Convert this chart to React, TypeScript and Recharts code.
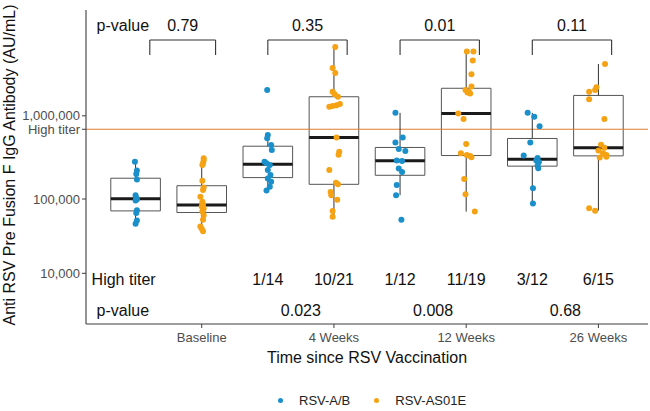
import React from "react";
import {
  ComposedChart,
  Scatter,
  XAxis,
  YAxis,
  ReferenceLine,
  ReferenceArea,
  ReferenceDot,
  Label,
} from "recharts";

const timepoints = ["Baseline", "4 Weeks", "12 Weeks", "26 Weeks"];
const groups = ["RSV-A/B", "RSV-AS01E"];
const groupColors = ["#1a8fca", "#f5a214"];

// anti-preF IgG (AU/mL) per participant
const abBaseline = [290000, 226000, 205000, 175000, 112000, 103000, 99000, 96000, 72000, 66000, 53000, 48000];
const asBaseline = [318000, 299000, 277000, 264000, 170000, 140000, 130000, 107000, 92000, 86000, 82000, 80000, 76000, 72000, 69000, 62000, 54000, 44000, 41000, 38000];
const abWeek4 = [1950000, 600000, 550000, 459000, 400000, 290000, 277000, 264000, 230000, 199000, 181000, 165000, 143000, 128000];
const asWeek4 = [5700000, 3400000, 3000000, 1870000, 1750000, 1640000, 1360000, 1320000, 1290000, 1270000, 560000, 380000, 350000, 230000, 160000, 153000, 123000, 112000, 98000, 70000, 59000];
const abWeek12 = [1080000, 560000, 490000, 410000, 390000, 300000, 295000, 240000, 217000, 150000, 112000, 54000];
const asWeek12 = [5100000, 5100000, 4100000, 2900000, 2130000, 1950000, 1870000, 1830000, 1780000, 1060000, 920000, 470000, 366000, 348000, 339000, 328000, 178000, 115000, 69000];
const abWeek26 = [1080000, 975000, 760000, 490000, 345000, 320000, 300000, 287000, 261000, 241000, 137000, 88000];
const asWeek26 = [3750000, 2090000, 1950000, 1870000, 1540000, 920000, 460000, 425000, 395000, 366000, 348000, 333000, 325000, 76000, 71000];

// horizontal jitter of each point, in category units
const jAbBaseline = [-0.01, 0.02, 0.01, 0.02, 0, 0.01, 0.02, 0, 0.02, 0.01, 0.02, 0];
const jAsBaseline = [0.03, 0.03, 0.02, 0.01, 0.01, 0.03, 0.02, -0.02, 0.01, 0.02, 0.01, 0, 0.03, 0.02, 0.01, 0.03, 0.02, -0.02, 0, 0.02];
const jAbWeek4 = [-0.01, 0, -0.01, 0.05, 0.06, -0.05, -0.02, 0.03, 0, 0.04, 0, 0.05, 0.03, -0.02];
const jAsWeek4 = [0.02, -0.02, 0.02, -0.02, 0.01, 0.06, 0.09, 0.04, -0.02, -0.07, 0.04, 0.08, 0.07, -0.07, 0.03, 0.06, -0.05, -0.04, 0.05, -0.02, -0.02];
const jAbWeek12 = [-0.07, 0.04, -0.07, -0.02, 0.08, -0.05, 0.03, -0.02, 0.03, -0.05, -0.06, 0.02];
const jAsWeek12 = [0.01, 0.11, 0.1, 0.08, 0.08, -0.01, 0.04, 0.02, 0.06, -0.12, -0.04, 0, -0.08, 0.01, 0.06, 0.08, -0.03, -0.01, 0.13];
const jAbWeek26 = [-0.07, 0.03, 0.11, -0.03, -0.13, 0.08, 0.06, 0.1, 0.08, 0.09, 0.01, 0.01];
const jAsWeek26 = [0.1, -0.03, -0.05, -0.14, -0.14, 0.09, 0.04, 0.09, 0, 0.07, 0.12, 0.12, 0.02, -0.14, -0.05];

const HIGH_TITER = 700000;
const betweenGroupP = ["0.79", "0.35", "0.01", "0.11"];
const overTimeP = ["0.023", "0.008", "0.68"];
const yTickValues = [10000, 100000, HIGH_TITER, 1000000];

const valuesByGroup = [
  [abBaseline, abWeek4, abWeek12, abWeek26],
  [asBaseline, asWeek4, asWeek12, asWeek26],
];
const jitterByGroup = [
  [jAbBaseline, jAbWeek4, jAbWeek12, jAbWeek26],
  [jAsBaseline, jAsWeek4, jAsWeek12, jAsWeek26],
];

// value axis: log10 decades above 10,000, stretched slightly toward the top
const STRETCH = 0.06;
const fromLog = (l: number) => {
  const d = l - 4;
  return d + STRETCH * d * (d - 1);
};
const toAxis = (v: number) => fromLog(Math.log10(v));

const Y_DOMAIN = [-0.682, 3.544];
const X_DOMAIN = [0.25, 8.75];
const BOX_HALF = 0.375;

// annotation rows, in axis units
const ROW_TOP = 3.33;
const BRACKET_TOP = 3.14;
const BRACKET_FOOT = 2.94;
const ROW_TITER = -0.085;
const ROW_P = -0.494;

const FONT = "'Liberation Sans', Arial, Helvetica, sans-serif";

const slot = (t: number, g: number) => 2 * t + 1 + g;

function quantile(sorted: number[], p: number) {
  const h = (sorted.length - 1) * p;
  const lo = Math.floor(h);
  const next = lo + 1 < sorted.length ? sorted[lo + 1] : sorted[lo];
  return sorted[lo] + (h - lo) * (next - sorted[lo]);
}

// ggplot-style box stats on the log scale (1.5 IQR whiskers)
function boxStats(values: number[]) {
  const logs = values.map((v) => Math.log10(v)).sort((a, b) => a - b);
  const q1 = quantile(logs, 0.25);
  const med = quantile(logs, 0.5);
  const q3 = quantile(logs, 0.75);
  const iqr = q3 - q1;
  const lo = Math.min(...logs.filter((l) => l >= q1 - 1.5 * iqr));
  const hi = Math.max(...logs.filter((l) => l <= q3 + 1.5 * iqr));
  return { q1: fromLog(q1), med: fromLog(med), q3: fromLog(q3), lo: fromLog(lo), hi: fromLog(hi) };
}

const points = valuesByGroup.map((byTime, g) =>
  byTime.flatMap((vals, t) =>
    vals.map((v, i) => ({ x: slot(t, g) + jitterByGroup[g][t][i], y: toAxis(v), value: v }))
  )
);

const boxes = valuesByGroup.flatMap((byTime, g) =>
  byTime.map((vals, t) => ({ pos: slot(t, g), ...boxStats(vals) }))
);

const titerLabels = timepoints.map((_, t) =>
  t === 0 ? [] : valuesByGroup.map((byTime) => {
    const vals = byTime[t];
    return `${vals.filter((v) => v > HIGH_TITER).length}/${vals.length}`;
  })
);

// brackets span from the A/B group to just past the AS01E group
const brackets = timepoints.map((_, t) =>
  t === 0 ? [slot(0, 0) + 0.215, slot(0, 1) + 0.21] : [slot(t, 0), slot(t, 1) + 0.2]
);

const yTickLabel = (t: number) => {
  let best = 0;
  yTickValues.forEach((v, i) => {
    if (Math.abs(toAxis(v) - t) < Math.abs(toAxis(yTickValues[best]) - t)) best = i;
  });
  const v = yTickValues[best];
  return v === HIGH_TITER ? "High titer" : v.toLocaleString("en-US");
};

const textShape = (text: string, anchor: "start" | "middle" = "middle", size = 16) =>
  (p: any) => (
    <text
      x={p.cx}
      y={p.cy}
      textAnchor={anchor}
      dominantBaseline="central"
      fontSize={size}
      fontFamily={FONT}
      fill="#111"
    >
      {text}
    </text>
  );

const dot = (color: string) => (p: any) => <circle cx={p.cx} cy={p.cy} r={3} fill={color} />;

export default function App() {
  const axisColor = "#3d3d3d";
  return (
    <div style={{ position: "absolute", left: 0, top: 0, width: 650, height: 411, background: "#fff", fontFamily: FONT }}>
      <ComposedChart width={650} height={411} margin={{ top: 10, right: 2, bottom: 0, left: 0 }}>
        <XAxis
          type="number"
          dataKey="x"
          domain={X_DOMAIN}
          allowDataOverflow
          ticks={[2, 4, 6, 8]}
          tickFormatter={(v: number) => timepoints[v / 2 - 1]}
          height={87}
          tickSize={4}
          tickMargin={5}
          axisLine={{ stroke: axisColor, strokeWidth: 1.1 }}
          tickLine={{ stroke: axisColor }}
          tick={{ fill: "#4d4d4d", fontSize: 13, fontFamily: FONT }}
        >
          <Label
            content={(p: any) => (
              <text
                x={p.viewBox.x + p.viewBox.width / 2}
                y={p.viewBox.y + 39}
                textAnchor="middle"
                fontSize={16}
                fontFamily={FONT}
                fill="#111"
              >
                Time since RSV Vaccination
              </text>
            )}
          />
        </XAxis>
        <YAxis
          type="number"
          dataKey="y"
          domain={Y_DOMAIN}
          allowDataOverflow
          ticks={yTickValues.map(toAxis)}
          tickFormatter={yTickLabel}
          interval={0}
          width={86}
          tickSize={4}
          tickMargin={2}
          axisLine={{ stroke: axisColor, strokeWidth: 1.1 }}
          tickLine={{ stroke: axisColor }}
          tick={{ fill: "#4d4d4d", fontSize: 13, fontFamily: FONT }}
        >
          <Label
            content={(p: any) => (
              <text
                transform={`translate(${p.viewBox.x + 15}, ${p.viewBox.y + p.viewBox.height / 2 - 2}) rotate(-90)`}
                textAnchor="middle"
                fontSize={16}
                fontFamily={FONT}
                fill="#111"
              >
                Anti RSV Pre Fusion F IgG Antibody (AU/mL)
              </text>
            )}
          />
        </YAxis>

        <ReferenceLine y={toAxis(HIGH_TITER)} stroke="#e07d32" strokeWidth={1.1} />

        {boxes.map((b, i) => (
          <ReferenceLine
            key={`wl${i}`}
            segment={[{ x: b.pos, y: b.lo }, { x: b.pos, y: b.q1 }]}
            stroke="#333"
            strokeWidth={1}
          />
        ))}
        {boxes.map((b, i) => (
          <ReferenceLine
            key={`wh${i}`}
            segment={[{ x: b.pos, y: b.q3 }, { x: b.pos, y: b.hi }]}
            stroke="#333"
            strokeWidth={1}
          />
        ))}
        {boxes.map((b, i) => (
          <ReferenceArea
            key={`bx${i}`}
            x1={b.pos - BOX_HALF}
            x2={b.pos + BOX_HALF}
            y1={b.q1}
            y2={b.q3}
            fill="#fff"
            fillOpacity={0}
            stroke="#555"
            strokeWidth={1}
          />
        ))}
        {boxes.map((b, i) => (
          <ReferenceLine
            key={`md${i}`}
            segment={[{ x: b.pos - BOX_HALF, y: b.med }, { x: b.pos + BOX_HALF, y: b.med }]}
            stroke="#1a1a1a"
            strokeWidth={3}
          />
        ))}

        {brackets.map(([a, b], i) => (
          <ReferenceLine key={`bt${i}`} segment={[{ x: a, y: BRACKET_TOP }, { x: b, y: BRACKET_TOP }]} stroke="#333" strokeWidth={1.1} />
        ))}
        {brackets.map(([a], i) => (
          <ReferenceLine key={`bl${i}`} segment={[{ x: a, y: BRACKET_TOP }, { x: a, y: BRACKET_FOOT }]} stroke="#333" strokeWidth={1.1} />
        ))}
        {brackets.map(([, b], i) => (
          <ReferenceLine key={`br${i}`} segment={[{ x: b, y: BRACKET_TOP }, { x: b, y: BRACKET_FOOT }]} stroke="#333" strokeWidth={1.1} />
        ))}

        {groups.map((name, g) => (
          <Scatter
            key={name}
            name={name}
            data={points[g]}
            fill={groupColors[g]}
            shape={dot(groupColors[g])}
            isAnimationActive={false}
          />
        ))}

        <ReferenceDot x={0.41} y={ROW_TOP} r={0} shape={textShape("p-value", "start")} />
        {brackets.map(([a, b], i) => (
          <ReferenceDot key={`pt${i}`} x={(a + b) / 2} y={ROW_TOP} r={0} shape={textShape(betweenGroupP[i])} />
        ))}
        <ReferenceDot x={0.335} y={ROW_TITER} r={0} shape={textShape("High titer", "start")} />
        {titerLabels.flatMap((pair, t) =>
          pair.map((label, g) => (
            <ReferenceDot key={`ht${t}${g}`} x={slot(t, g)} y={ROW_TITER} r={0} shape={textShape(label)} />
          ))
        )}
        <ReferenceDot x={0.41} y={ROW_P} r={0} shape={textShape("p-value", "start")} />
        {overTimeP.map((label, i) => (
          <ReferenceDot key={`pb${i}`} x={2 * i + 3.5} y={ROW_P} r={0} shape={textShape(label)} />
        ))}
      </ComposedChart>

      <div style={{ position: "absolute", left: 278, top: 392, height: 16, display: "flex", alignItems: "center", fontSize: 13, color: "#222" }}>
        {groups.map((name, g) => (
          <div key={name} style={{ display: "flex", alignItems: "center", marginLeft: g === 0 ? 0 : 24 }}>
            <span style={{ width: 5, height: 5, borderRadius: "50%", background: groupColors[g], display: "inline-block" }} />
            <span style={{ marginLeft: 16 }}>{name}</span>
          </div>
        ))}
      </div>
    </div>
  );
}
